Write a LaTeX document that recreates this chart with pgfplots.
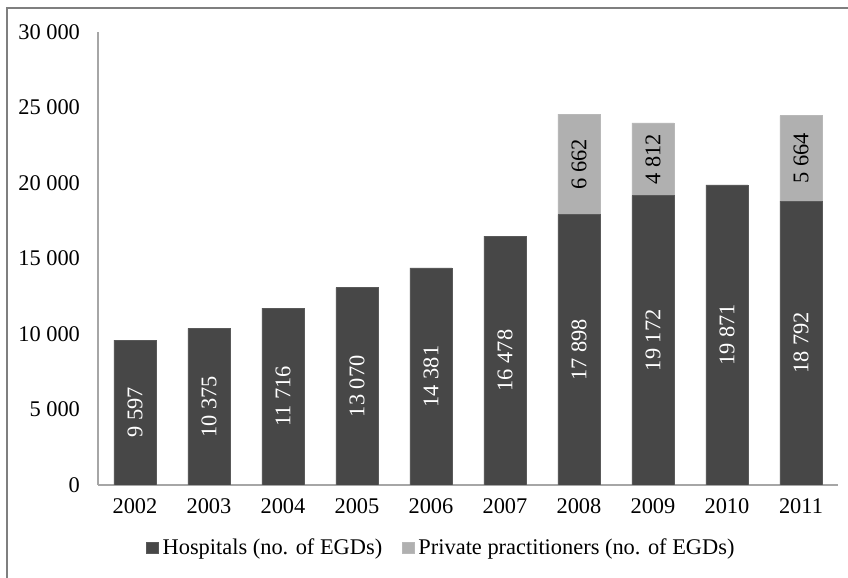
\documentclass[border=0pt]{standalone}
\usepackage{fontspec}
\setmainfont{Liberation Serif}
\usepackage{pgfplots}
\pgfplotsset{compat=1.18}
\definecolor{hosp}{HTML}{474747}
\definecolor{priv}{HTML}{B0B0B0}
\definecolor{axgray}{HTML}{A6A6A6}
\definecolor{frame}{HTML}{7F7F7F}
\newcommand\chartfont{\fontsize{11.2}{13}\selectfont}
\begin{document}
\begin{tikzpicture}
\useasboundingbox (0,0) rectangle (424pt,289pt);
\draw[frame, line width=1pt] (3.5pt,0) -- (3.5pt,285pt) -- (424pt,285pt);
\begin{axis}[
  at={(49pt,46.5pt)}, anchor=south west,
  scale only axis, width=370pt, height=226.5pt,
  ybar stacked, bar width=21pt,
  xmin=-0.5, xmax=9.5, ymin=0, ymax=30000,
  xtick={0,...,9},
  xticklabels={2002,2003,2004,2005,2006,2007,2008,2009,2010,2011},
  ytick={0,5000,10000,15000,20000,25000,30000},
  axis x line*=bottom, axis y line*=left,
  axis line style={axgray, line width=0.6pt},
  x axis line style={-}, y axis line style={-},
  major tick length=0pt,
  font=\chartfont,
  /pgf/number format/assume math mode=true,
  yticklabel style={/pgf/number format/1000 sep={\ }, xshift=-5.5pt},
  xticklabel style={yshift=-3.5pt},
  scaled y ticks=false,
  legend style={at={(0.4655,0)}, anchor=center, yshift=-31.5pt, draw=none, fill=none,
    legend columns=2, /tikz/every even column/.append style={column sep=8pt},
    font=\chartfont},
  legend image code/.code={\fill[#1] (0pt,-2.9pt) rectangle (5.8pt,2.9pt);},
]
\addplot[fill=hosp, draw=gray!70!black, line width=0.3pt] coordinates {
 (0,9597) (1,10375) (2,11716) (3,13070) (4,14381) (5,16478) (6,17898) (7,19172) (8,19871) (9,18792)};
\addplot[fill=priv, draw=priv!90!white, line width=0.3pt] coordinates {
 (0,0) (1,0) (2,0) (3,0) (4,0) (5,0) (6,6662) (7,4812) (8,0) (9,5664)};
\legend{Hospitals (no. of EGDs), Private practitioners (no. of EGDs)}
\end{axis}
\begin{axis}[
  at={(49pt,46.5pt)}, anchor=south west,
  scale only axis, width=370pt, height=226.5pt,
  xmin=-0.5, xmax=9.5, ymin=0, ymax=30000,
  hide axis, clip=false,
  font=\chartfont,
]
\addplot[draw=none, mark=none, nodes near coords, point meta=explicit symbolic,
  nodes near coords style={rotate=90, anchor=center, white, font=\chartfont}]
 coordinates {
 (0,4798.5) [9~597] (1,5187.5) [10~375] (2,5858) [11~716] (3,6535) [13~070]
 (4,7190.5) [14~381] (5,8239) [16~478] (6,8949) [17~898] (7,9586) [19~172]
 (8,9935.5) [19~871] (9,9396) [18~792]};
\addplot[draw=none, mark=none, nodes near coords, point meta=explicit symbolic,
  nodes near coords style={rotate=90, anchor=center, black, font=\chartfont}]
 coordinates {
 (6,21229) [6~662] (7,21578) [4~812] (9,21624) [5~664]};
\end{axis}
\end{tikzpicture}
\end{document}
